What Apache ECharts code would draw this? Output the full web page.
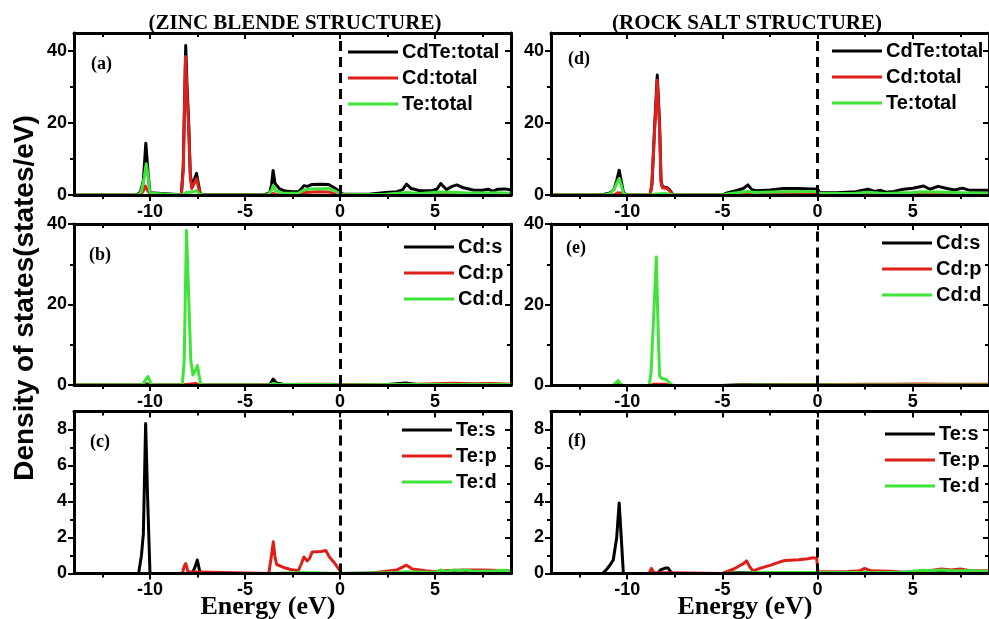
<!DOCTYPE html>
<html>
<head>
<meta charset="utf-8">
<script src="https://cdn.jsdelivr.net/npm/echarts@6/dist/echarts.min.js"></script>
<style>
  html, body { margin: 0; padding: 0; background: #fff; }
  #chart { width: 989px; height: 619px; }
</style>
</head>
<body>
<div id="chart"></div>
<script>
// Energy axis (eV) shared by all panels
const E_MIN = -14, E_MAX = 9;
const E_MAJOR = [-10, -5, 0, 5];
const E_MINOR = [-12.5, -7.5, -2.5, 2.5, 7.5];

// ---- Zinc blende: total DOS (a) ----
const zbTotalCdTe = [[-14,0],[-10.7,0],[-10.5,0.8],[-10.35,4],[-10.22,14.4],[-10.1,6],[-10.0,0.6],[-9.9,0.1],[-8.35,0.1],[-8.25,8],[-8.12,41.5],[-8.05,30],[-7.97,21],[-7.88,6],[-7.8,2.5],[-7.65,4.5],[-7.55,6],[-7.45,3],[-7.35,0.3],[-7.2,0.1],[-4.0,0.1],[-3.7,0.6],[-3.6,3],[-3.52,6.8],[-3.42,3.2],[-3.2,1.8],[-2.9,1.1],[-2.5,0.9],[-2.2,0.9],[-2.05,1.6],[-1.9,2.6],[-1.7,2.4],[-1.5,2.9],[-1.0,3.0],[-0.6,2.9],[-0.3,2.0],[0,0.9],[0.15,0.3],[1.5,0.2],[2.4,0.7],[3.0,0.9],[3.3,1.5],[3.5,3.0],[3.75,1.8],[4.2,1.2],[4.8,1.2],[5.1,1.6],[5.3,3.2],[5.6,1.5],[5.9,2.4],[6.15,2.8],[6.5,2.0],[7.0,1.4],[7.5,1.3],[7.8,1.6],[8.05,1.0],[8.3,1.6],[8.7,1.7],[9,1.4]];
const zbTotalCd = [[-14,0],[-10.5,0],[-10.35,1.2],[-10.25,2.5],[-10.1,1],[-9.95,0],[-8.35,0],[-8.25,7],[-8.13,38.5],[-8.05,28],[-7.97,19.5],[-7.88,5],[-7.8,1.8],[-7.65,3.5],[-7.55,4.5],[-7.45,2.2],[-7.35,0.2],[-7.2,0],[-3.7,0],[-3.52,0.4],[-3.3,0.1],[-2.1,0.1],[-1.8,0.7],[-1.2,0.9],[-0.6,0.8],[-0.3,0.4],[0,0.1],[2.5,0.1],[3.5,0.4],[4.5,0.2],[5.3,0.4],[6.2,0.4],[7.5,0.3],[9,0.3]];
const zbTotalTe = [[-14,0],[-10.6,0],[-10.45,1],[-10.3,5],[-10.2,8.7],[-10.1,5],[-10.0,0.5],[-9.9,0],[-8.3,0],[-8.1,0.7],[-7.8,0.8],[-7.55,1.2],[-7.4,0.3],[-7.2,0],[-3.8,0.1],[-3.6,1.3],[-3.52,2.6],[-3.4,1.2],[-3.0,0.5],[-2.2,0.5],[-1.9,1.4],[-1.5,1.7],[-0.6,1.8],[-0.3,1.2],[0,0.4],[0.2,0.1],[2.4,0.2],[3.5,0.7],[4.2,0.4],[5.3,0.8],[6.2,0.7],[7.0,0.5],[8.3,0.6],[9,0.5]];

// ---- Zinc blende: Cd partial DOS (b) ----
const zbCdS = [[-14,0],[-10.3,0],[-10.15,0.3],[-10.0,0],[-3.7,0],[-3.52,1.5],[-3.35,0.5],[-3.0,0.2],[-1,0.1],[0,0.05],[2.5,0.1],[3.45,0.5],[4.0,0.2],[5,0.1],[9,0.1]];
const zbCdP = [[-14,0],[-8.3,0],[-8.2,0.4],[-7.6,0.4],[-7.4,0],[-3.6,0],[-3.5,0.2],[-3,0.1],[-1.8,0.2],[-0.5,0.2],[0,0.05],[3,0.15],[4,0.2],[5,0.3],[6,0.45],[7,0.3],[8,0.35],[9,0.2]];
const zbCdD = [[-14,0],[-10.4,0],[-10.25,1.2],[-10.1,2.1],[-9.95,0.3],[-9.8,0],[-8.3,0],[-8.2,6],[-8.08,38.4],[-8.02,30],[-7.95,19.9],[-7.85,6],[-7.74,2.5],[-7.6,3.8],[-7.5,4.8],[-7.42,2.5],[-7.33,0.1],[-7.2,0],[-3.7,0],[-3.5,0.4],[-3.2,0.1],[-1.8,0.15],[-0.5,0.1],[0,0],[3.5,0.15],[5,0.1],[9,0.1]];

// ---- Zinc blende: Te partial DOS (c) ----
const zbTeS = [[-14,0],[-10.6,0],[-10.45,1],[-10.35,2.2],[-10.23,8.33],[-10.12,4],[-10.0,0],[-7.8,0],[-7.65,0.3],[-7.51,0.75],[-7.4,0.2],[-7.3,0],[-3.6,0],[-3.5,0.05],[0,0],[5,0.05],[6,0.1],[7,0.05],[8,0.1],[9,0.1]];
const zbTeP = [[-14,0],[-8.3,0],[-8.2,0.4],[-8.12,0.55],[-8.0,0.1],[-7.9,0],[-3.75,0],[-3.62,0.9],[-3.51,1.76],[-3.42,0.9],[-3.33,0.5],[-3.0,0.35],[-2.6,0.22],[-2.2,0.15],[-2.05,0.5],[-1.9,0.92],[-1.72,0.7],[-1.6,0.85],[-1.46,1.2],[-1.0,1.22],[-0.75,1.28],[-0.55,0.9],[-0.3,0.6],[-0.1,0.3],[0,0.15],[0.1,0],[1.5,0],[2.2,0.1],[3.0,0.2],[3.5,0.46],[3.8,0.25],[4.5,0.15],[5,0.1],[5.5,0.15],[6.5,0.2],[7.5,0.2],[8,0.18],[9,0.15]];
const zbTeD = [[-14,0],[-3.6,0],[-3.5,0.05],[-2,0.05],[0,0],[3,0.05],[3.5,0.1],[5,0.05],[5.3,0.2],[5.6,0.1],[6,0.2],[6.3,0.15],[6.6,0.2],[7,0.12],[8,0.12],[8.5,0.18],[9,0.15]];

// ---- Rock salt: total DOS (d) ----
const rsTotalCdTe = [[-14,0],[-11.5,0],[-11.2,0.2],[-10.9,0.6],[-10.7,1.5],[-10.55,4],[-10.42,6.9],[-10.3,3.5],[-10.2,0.8],[-10.05,0],[-8.8,0],[-8.7,3],[-8.55,20],[-8.42,33.3],[-8.3,20],[-8.22,4],[-8.15,2.3],[-7.9,2.0],[-7.78,1.5],[-7.6,0.1],[-7.4,0],[-5.0,0],[-4.8,0.5],[-4.3,1.2],[-3.9,1.8],[-3.66,2.8],[-3.45,1.5],[-3.2,1.2],[-2.5,1.4],[-1.8,1.8],[-1.0,1.8],[-0.3,1.7],[0,1.7],[0.1,0.7],[1.0,0.6],[2.0,0.9],[2.64,1.6],[3.0,1.0],[3.3,1.3],[3.6,0.8],[4.0,1.0],[4.5,1.6],[5.0,1.9],[5.56,2.5],[5.9,1.6],[6.32,2.4],[6.8,1.8],[7.2,1.4],[7.6,1.9],[8.0,1.3],[9,1.3]];
const rsTotalCd = [[-14,0],[-10.7,0],[-10.5,0.6],[-10.42,1.1],[-10.3,0.5],[-10.1,0],[-8.8,0],[-8.7,3],[-8.55,19],[-8.42,31.9],[-8.3,19],[-8.22,3.5],[-8.15,2.0],[-7.9,1.8],[-7.78,1.2],[-7.6,0.1],[-7.4,0],[-5,0],[-4,0.2],[-3.66,0.3],[-2.5,0.4],[-1.8,0.6],[-0.5,0.6],[0,0.5],[0.1,0.2],[2.6,0.3],[4,0.3],[5.5,0.5],[7,0.4],[9,0.4]];
const rsTotalTe = [[-14,0],[-11.2,0],[-10.9,0.4],[-10.7,1.4],[-10.55,3.2],[-10.42,4.6],[-10.3,2.5],[-10.2,0.5],[-10.05,0],[-8.8,0],[-8.5,0.3],[-8.0,0.4],[-7.6,0.1],[-7.4,0],[-5,0],[-4.6,0.4],[-3.66,1.0],[-3.3,0.7],[-2,0.9],[-0.5,1.0],[0,1.0],[0.1,0.4],[2,0.5],[2.64,0.8],[3.5,0.4],[5,0.7],[5.56,0.9],[6.3,0.8],[7.5,0.6],[9,0.5]];

// ---- Rock salt: Cd partial DOS (e) ----
const rsCdS = [[-14,0],[-10.6,0],[-10.45,0.2],[-10.3,0],[-5,0],[-4,0.2],[-2,0.25],[0,0.25],[0.1,0.1],[3,0.15],[5,0.2],[7,0.2],[9,0.15]];
const rsCdP = [[-14,0],[-8.8,0],[-8.6,0.3],[-8.0,0.3],[-7.6,0],[-5,0],[-3,0.15],[-1,0.2],[0,0.2],[0.1,0.05],[2.5,0.3],[4,0.3],[5.5,0.4],[7,0.3],[9,0.3]];
const rsCdD = [[-14,0],[-10.75,0],[-10.6,0.7],[-10.47,1.2],[-10.35,0.4],[-10.2,0],[-8.85,0],[-8.75,3],[-8.6,18],[-8.47,31.8],[-8.38,15],[-8.3,2.5],[-8.2,1.8],[-7.95,1.5],[-7.86,1.2],[-7.65,0.1],[-7.5,0],[-5,0],[-3,0.1],[0,0.1],[9,0.1]];

// ---- Rock salt: Te partial DOS (f) ----
const rsTeS = [[-14,0],[-11.3,0],[-11.1,0.2],[-10.95,0.4],[-10.73,0.75],[-10.55,2],[-10.42,3.92],[-10.3,1.8],[-10.2,0],[-8.4,0],[-8.25,0.2],[-8.0,0.3],[-7.85,0.3],[-7.65,0],[-5,0],[-4,0.05],[0,0.05],[3,0.05],[5,0.08],[5.5,0.1],[6,0.05],[6.5,0.12],[7.5,0.08],[9,0.05]];
const rsTeP = [[-14,0],[-8.85,0],[-8.73,0.28],[-8.6,0.05],[-8.5,0],[-5,0],[-4.91,0.02],[-4.4,0.25],[-3.9,0.55],[-3.73,0.7],[-3.55,0.35],[-3.39,0.15],[-3.0,0.3],[-2.5,0.45],[-1.96,0.65],[-1.7,0.72],[-1.0,0.76],[-0.5,0.82],[-0.26,0.87],[-0.05,0.85],[0.02,0.1],[1.5,0.1],[2.2,0.15],[2.47,0.28],[2.8,0.15],[3.8,0.12],[4.5,0.05],[5.5,0.1],[6.5,0.25],[7,0.2],[7.5,0.25],[8,0.15],[9,0.15]];
const rsTeD = [[-14,0],[-5,0],[-3,0.05],[0,0.05],[3,0.05],[4.5,0.05],[5,0.12],[5.5,0.18],[6,0.15],[6.5,0.2],[7,0.15],[8,0.15],[9,0.12]];

// Legend names per row of panels
const totalNames = ['CdTe:total', 'Cd:total', 'Te:total'];
const cdNames = ['Cd:s', 'Cd:p', 'Cd:d'];
const teNames = ['Te:s', 'Te:p', 'Te:d'];

// y-axis ranges and ticks
const totalY = { max: 45, major: [0, 20, 40], minor: [10, 30] };
const cdY = { max: 40, major: [0, 20, 40], minor: [10, 30] };
const teY = { max: 9, major: [0, 2, 4, 6, 8], minor: [1, 3, 5, 7] };

const COLORS = ['#000000', '#de1f1a', '#3fe438'];
const SANS = 'Liberation Sans, Arial, sans-serif';
const SERIF = 'Liberation Serif, Times New Roman, serif';

const panels = [
  { tag: '(a)', names: totalNames, data: [zbTotalCdTe, zbTotalCd, zbTotalTe], y: totalY,
    grid: { left: 74, top: 33, width: 437, height: 162 }, legend: { left: 348, top: 42 }, tagPos: [91, 65] },
  { tag: '(b)', names: cdNames, data: [zbCdS, zbCdP, zbCdD], y: cdY,
    grid: { left: 74, top: 224, width: 437, height: 161 }, legend: { left: 404, top: 237 }, tagPos: [89, 256] },
  { tag: '(c)', names: teNames, data: [zbTeS, zbTeP, zbTeD], y: teY,
    grid: { left: 74, top: 411.5, width: 437, height: 162 }, legend: { left: 402, top: 420 }, tagPos: [90, 443] },
  { tag: '(d)', names: totalNames, data: [rsTotalCdTe, rsTotalCd, rsTotalTe], y: totalY,
    grid: { left: 551, top: 33, width: 443, height: 162 }, legend: { left: 832, top: 41 }, tagPos: [568, 60] },
  { tag: '(e)', names: cdNames, data: [rsCdS, rsCdP, rsCdD], y: cdY,
    grid: { left: 551, top: 224, width: 443, height: 161.5 }, legend: { left: 882, top: 233 }, tagPos: [566, 249] },
  { tag: '(f)', names: teNames, data: [rsTeS, rsTeP, rsTeD], y: teY,
    grid: { left: 551, top: 411.5, width: 443, height: 162 }, legend: { left: 885, top: 424 }, tagPos: [568, 442] }
];

const labelStyle = { color: '#000', fontSize: 18, fontWeight: 'bold', fontFamily: SANS };
const frameLine = { color: '#000', width: 3 };

// One axis layer: frame line, ticks and (optionally) labels
function axisLayer(kind, gi, pos, range, ticks, len, withLine, withLabels) {
  const outward = (pos === 'bottom' || pos === 'left');
  return {
    type: 'value', gridIndex: gi, position: pos,
    min: range[0], max: range[1],
    axisLine: { show: withLine, onZero: false, lineStyle: frameLine },
    axisTick: { show: true, inside: !outward, length: len, customValues: ticks,
                lineStyle: { color: '#000', width: 2 } },
    axisLabel: withLabels
      ? Object.assign({ show: true, customValues: ticks, margin: kind === 'x' ? 8 : 7 }, labelStyle)
      : { show: false },
    splitLine: { show: false },
    minorTick: { show: false },
    z: 5
  };
}

const grids = [], xAxes = [], yAxes = [], series = [], legends = [], graphics = [];

panels.forEach((p, gi) => {
  grids.push(Object.assign({ containLabel: false }, p.grid));
  const xr = [E_MIN, E_MAX], yr = [0, p.y.max];

  const xi = xAxes.length;
  xAxes.push(axisLayer('x', gi, 'bottom', xr, E_MAJOR, 6, true, true));
  xAxes.push(axisLayer('x', gi, 'bottom', xr, E_MINOR, 4, false, false));
  xAxes.push(axisLayer('x', gi, 'top', xr, E_MAJOR, 6, true, false));
  xAxes.push(axisLayer('x', gi, 'top', xr, E_MINOR, 4, false, false));

  const yi = yAxes.length;
  yAxes.push(axisLayer('y', gi, 'left', yr, p.y.major, 6, true, true));
  yAxes.push(axisLayer('y', gi, 'left', yr, p.y.minor, 4, false, false));
  yAxes.push(axisLayer('y', gi, 'right', yr, p.y.major, 6, true, false));
  yAxes.push(axisLayer('y', gi, 'right', yr, p.y.minor, 4, false, false));

  p.data.forEach((d, k) => {
    const s = {
      type: 'line', name: p.names[k], xAxisIndex: xi, yAxisIndex: yi,
      data: d, symbol: 'none', showSymbol: false,
      lineStyle: { color: COLORS[k], width: 3, join: 'round' },
      itemStyle: { color: COLORS[k] },
      z: 2 + k, animation: false, silent: true
    };
    if (k === 0) {
      // Fermi level marker
      s.markLine = {
        silent: true, symbol: ['none', 'none'], animation: false,
        label: { show: false },
        lineStyle: { color: '#000', width: 3, type: [10, 6] },
        data: [{ xAxis: 0 }]
      };
    }
    series.push(s);
  });

  legends.push({
    orient: 'vertical', left: p.legend.left, top: p.legend.top,
    padding: 0, itemGap: 6, itemWidth: 50, itemHeight: 3, icon: 'rect',
    selectedMode: false,
    textStyle: { color: '#000', fontSize: 20, fontWeight: 'bold', fontFamily: SANS, padding: [0, 0, 0, -1] },
    data: p.names
  });

  graphics.push({
    type: 'text', left: p.tagPos[0], top: p.tagPos[1] - 10, silent: true,
    style: { text: p.tag, fill: '#000', font: 'bold 18px ' + SERIF }
  });
});

// Column titles and axis names
graphics.push(
  { type: 'text', x: 295, y: 24, silent: true,
    style: { text: '(ZINC BLENDE STRUCTURE)', fill: '#000', font: 'bold 21px ' + SERIF, align: 'center', verticalAlign: 'middle' } },
  { type: 'text', x: 747, y: 24, silent: true,
    style: { text: '(ROCK SALT STRUCTURE)', fill: '#000', font: 'bold 21px ' + SERIF, align: 'center', verticalAlign: 'middle' } },
  { type: 'text', x: 268, y: 607, silent: true,
    style: { text: 'Energy (eV)', fill: '#000', font: 'bold 26px ' + SERIF, align: 'center', verticalAlign: 'middle' } },
  { type: 'text', x: 745, y: 607, silent: true,
    style: { text: 'Energy (eV)', fill: '#000', font: 'bold 26px ' + SERIF, align: 'center', verticalAlign: 'middle' } },
  { type: 'text', x: 25, y: 298, rotation: Math.PI / 2, silent: true,
    style: { text: 'Density of states(states/eV)', fill: '#000', font: 'bold 28px ' + SANS, align: 'center', verticalAlign: 'middle' } }
);

const chart = echarts.init(document.getElementById('chart'), null, { renderer: 'canvas' });
chart.setOption({
  backgroundColor: '#ffffff',
  animation: false,
  grid: grids,
  xAxis: xAxes,
  yAxis: yAxes,
  legend: legends,
  series: series,
  graphic: graphics
});
</script>
</body>
</html>
